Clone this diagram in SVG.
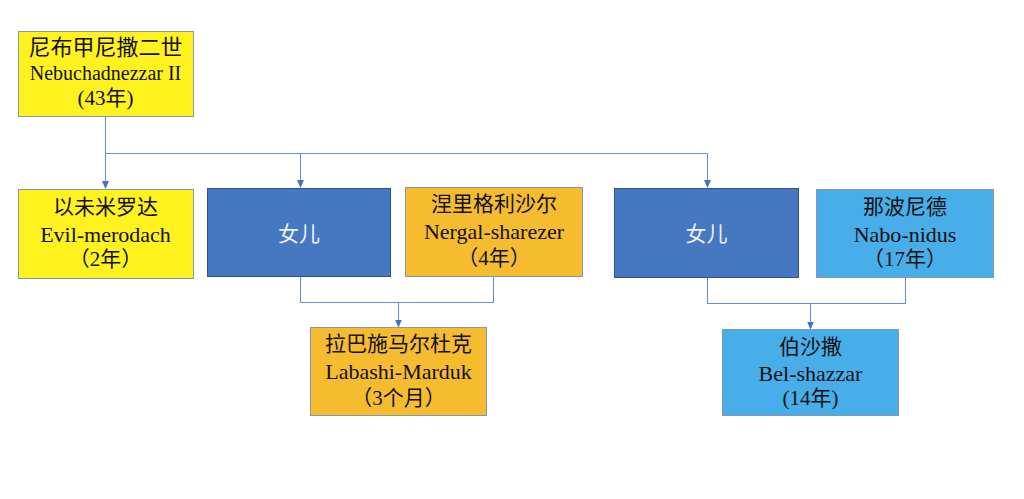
<svg xmlns="http://www.w3.org/2000/svg" width="1024" height="499" viewBox="0 0 1024 499">
<defs>
<style>
.box{stroke-width:1}
.yel{fill:#FFF21F;stroke:#8497B0}
.blu{fill:#4677C1;stroke:#2F528F}
.org{fill:#F6BC2F;stroke:#8497B0}
.lb{fill:#47AEEA;stroke:#8497B0}
text{font-family:"Liberation Serif","Noto Sans CJK SC",serif;text-anchor:middle;fill:#111}
.cn{font-size:21px}
.en{font-size:22px}
.en20{font-size:20px}
.wt{fill:#EEF2FA;font-size:21px}
.ln{fill:none;stroke:#6A8FD0;stroke-width:1.1}
</style>
<marker id="ar" markerWidth="8" markerHeight="7" refX="7" refY="3.5" orient="auto" markerUnits="userSpaceOnUse">
<path d="M0,0 L8,3.5 L0,7 Z" fill="#4472C4"/>
</marker>
</defs>
<rect width="1024" height="499" fill="#fff"/>

<g id="connectors">
<path class="ln" d="M105.5,116.5 V188" marker-end="url(#ar)"/>
<path class="ln" d="M105.5,153.5 H707.5"/>
<path class="ln" d="M300.5,153.5 V187" marker-end="url(#ar)"/>
<path class="ln" d="M707.5,153.5 V187" marker-end="url(#ar)"/>
<path class="ln" d="M300.5,276.5 V302.5 H493.5 V276.5"/>
<path class="ln" d="M398.5,302.5 V326.5" marker-end="url(#ar)"/>
<path class="ln" d="M707.5,277.5 V303.5 H905.5 V277.5"/>
<path class="ln" d="M810.5,303.5 V328.5" marker-end="url(#ar)"/>
</g>

<g id="nebuchadnezzar">
<rect class="box yel" x="18.5" y="31.5" width="175" height="85"/>
<text class="cn" x="105.5" y="55" style="font-size:22px">尼布甲尼撒二世</text>
<text class="en20" x="105.5" y="80">Nebuchadnezzar II</text>
<text class="cn" x="105.5" y="105">(43年)</text>
</g>

<g id="evil-merodach">
<rect class="box yel" x="18.5" y="189.5" width="175" height="89"/>
<text class="cn" x="105.5" y="214">以未米罗达</text>
<text class="en" x="105.5" y="242">Evil-merodach</text>
<text class="cn" x="105.5" y="266">（2年）</text>
</g>

<g id="daughter1">
<rect class="box blu" x="207.5" y="188.5" width="183" height="88"/>
<text class="wt" x="299" y="241">女儿</text>
</g>

<g id="nergal-sharezer">
<rect class="box org" x="405.5" y="187.5" width="177" height="89"/>
<text class="cn" x="494" y="211">涅里格利沙尔</text>
<text class="en" x="494" y="239">Nergal-sharezer</text>
<text class="cn" x="494" y="265">（4年）</text>
</g>

<g id="daughter2">
<rect class="box blu" x="614.5" y="188.5" width="184" height="89"/>
<text class="wt" x="706.5" y="241">女儿</text>
</g>

<g id="nabonidus">
<rect class="box lb" x="816.5" y="189.5" width="177" height="88"/>
<text class="cn" x="905" y="214">那波尼德</text>
<text class="en" x="905" y="242">Nabo-nidus</text>
<text class="cn" x="905" y="266">（17年）</text>
</g>

<g id="labashi-marduk">
<rect class="box org" x="310.5" y="327.5" width="176" height="88"/>
<text class="cn" x="398.5" y="351">拉巴施马尔杜克</text>
<text class="en" x="398.5" y="379">Labashi-Marduk</text>
<text class="cn" x="398.5" y="405">（3个月）</text>
</g>

<g id="belshazzar">
<rect class="box lb" x="722.5" y="329.5" width="176" height="86"/>
<text class="cn" x="810.5" y="354">伯沙撒</text>
<text class="en" x="810.5" y="381">Bel-shazzar</text>
<text class="cn" x="810.5" y="405">(14年)</text>
</g>
</svg>
